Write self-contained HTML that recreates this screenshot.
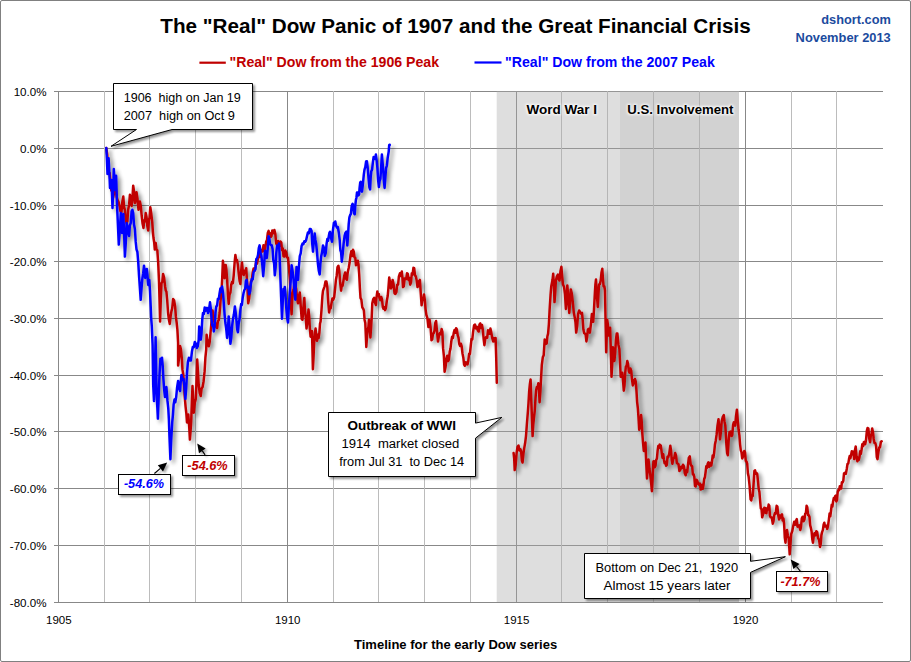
<!DOCTYPE html>
<html><head><meta charset="utf-8"><title>Real Dow 1907 vs 2007</title>
<style>html,body{margin:0;padding:0;background:#fff;}body{width:911px;height:662px;overflow:hidden;font-family:"Liberation Sans",sans-serif;}</style></head>
<body>
<svg width="911" height="662" viewBox="0 0 911 662" style="display:block;font-family:'Liberation Sans',sans-serif">
<defs>
<filter id="ls" x="-5%" y="-5%" width="110%" height="110%"><feGaussianBlur in="SourceAlpha" stdDeviation="1.9"/><feOffset dx="3.1" dy="2.7"/><feComponentTransfer><feFuncA type="linear" slope="0.45"/></feComponentTransfer><feMerge><feMergeNode/><feMergeNode in="SourceGraphic"/></feMerge></filter>
<filter id="bs" x="-10%" y="-20%" width="125%" height="150%"><feGaussianBlur in="SourceAlpha" stdDeviation="1.3"/><feOffset dx="2" dy="2"/><feComponentTransfer><feFuncA type="linear" slope="0.42"/></feComponentTransfer><feMerge><feMergeNode/><feMergeNode in="SourceGraphic"/></feMerge></filter>
<filter id="as" x="-2%" y="-2%" width="104%" height="104%"><feGaussianBlur in="SourceAlpha" stdDeviation="1.2"/><feOffset dx="2" dy="2"/><feComponentTransfer><feFuncA type="linear" slope="0.35"/></feComponentTransfer><feMerge><feMergeNode/><feMergeNode in="SourceGraphic"/></feMerge></filter>
<filter id="glow" x="-10%" y="-50%" width="120%" height="200%"><feMorphology in="SourceAlpha" operator="dilate" radius="1.2" result="d"/><feGaussianBlur in="d" stdDeviation="1.3" result="b"/><feFlood flood-color="#fff" flood-opacity="0.85" result="c"/><feComposite in="c" in2="b" operator="in"/></filter>
</defs>
<rect x="0" y="0" width="911" height="662" fill="#fff"/>
<rect x="0.5" y="0.5" width="910" height="661" rx="1.5" fill="none" stroke="#808080" stroke-width="1"/>
<rect x="54" y="91" width="829" height="1" fill="#888"/>
<rect x="54" y="148" width="829" height="1" fill="#888"/>
<rect x="54" y="205" width="829" height="1" fill="#888"/>
<rect x="54" y="261" width="829" height="1" fill="#888"/>
<rect x="54" y="318" width="829" height="1" fill="#888"/>
<rect x="54" y="375" width="829" height="1" fill="#888"/>
<rect x="54" y="431" width="829" height="1" fill="#888"/>
<rect x="54" y="488" width="829" height="1" fill="#888"/>
<rect x="54" y="545" width="829" height="1" fill="#888"/>
<rect x="54" y="602" width="829" height="1" fill="#888"/>
<rect x="104" y="91" width="1" height="511" fill="#bcbcbc"/>
<rect x="149" y="91" width="1" height="511" fill="#bcbcbc"/>
<rect x="195" y="91" width="1" height="511" fill="#bcbcbc"/>
<rect x="241" y="91" width="1" height="511" fill="#bcbcbc"/>
<rect x="287" y="91" width="1" height="511" fill="#888"/>
<rect x="333" y="91" width="1" height="511" fill="#bcbcbc"/>
<rect x="378" y="91" width="1" height="511" fill="#bcbcbc"/>
<rect x="424" y="91" width="1" height="511" fill="#bcbcbc"/>
<rect x="470" y="91" width="1" height="511" fill="#bcbcbc"/>
<rect x="516" y="91" width="1" height="511" fill="#888"/>
<rect x="561" y="91" width="1" height="511" fill="#bcbcbc"/>
<rect x="607" y="91" width="1" height="511" fill="#bcbcbc"/>
<rect x="653" y="91" width="1" height="511" fill="#bcbcbc"/>
<rect x="699" y="91" width="1" height="511" fill="#bcbcbc"/>
<rect x="745" y="91" width="1" height="511" fill="#888"/>
<rect x="791" y="91" width="1" height="511" fill="#bcbcbc"/>
<rect x="836" y="91" width="1" height="511" fill="#bcbcbc"/>
<rect x="58" y="91" width="1" height="512" fill="#888"/>
<rect x="496.7" y="91" width="123.3" height="511" fill="#ababab" fill-opacity="0.393"/>
<rect x="620" y="91" width="119" height="511" fill="#ababab" fill-opacity="0.537"/>
<text x="46.5" y="95.7" font-size="11.6" text-anchor="end" fill="#000">10.0%</text>
<text x="46.5" y="152.7" font-size="11.6" text-anchor="end" fill="#000">0.0%</text>
<text x="46.5" y="209.7" font-size="11.6" text-anchor="end" fill="#000">-10.0%</text>
<text x="46.5" y="265.7" font-size="11.6" text-anchor="end" fill="#000">-20.0%</text>
<text x="46.5" y="322.7" font-size="11.6" text-anchor="end" fill="#000">-30.0%</text>
<text x="46.5" y="379.7" font-size="11.6" text-anchor="end" fill="#000">-40.0%</text>
<text x="46.5" y="435.7" font-size="11.6" text-anchor="end" fill="#000">-50.0%</text>
<text x="46.5" y="492.7" font-size="11.6" text-anchor="end" fill="#000">-60.0%</text>
<text x="46.5" y="549.7" font-size="11.6" text-anchor="end" fill="#000">-70.0%</text>
<text x="46.5" y="606.7" font-size="11.6" text-anchor="end" fill="#000">-80.0%</text>
<text x="58.8" y="624.3" font-size="11.6" text-anchor="middle" fill="#000" textLength="25.6" lengthAdjust="spacingAndGlyphs">1905</text>
<text x="287.7" y="624.3" font-size="11.6" text-anchor="middle" fill="#000" textLength="25.6" lengthAdjust="spacingAndGlyphs">1910</text>
<text x="516.6" y="624.3" font-size="11.6" text-anchor="middle" fill="#000" textLength="25.6" lengthAdjust="spacingAndGlyphs">1915</text>
<text x="745.5" y="624.3" font-size="11.6" text-anchor="middle" fill="#000" textLength="25.6" lengthAdjust="spacingAndGlyphs">1920</text>
<text x="160.3" y="33" font-size="20.3" font-weight="bold" fill="#000" textLength="590.5" lengthAdjust="spacingAndGlyphs">The "Real" Dow Panic of 1907 and the Great Financial Crisis</text>
<text x="890.8" y="23.6" font-size="12.3" font-weight="bold" fill="#1b4b9e" text-anchor="end" textLength="69.5" lengthAdjust="spacingAndGlyphs">dshort.com</text>
<text x="890.8" y="41.5" font-size="12.3" font-weight="bold" fill="#1b4b9e" text-anchor="end" textLength="95.2" lengthAdjust="spacingAndGlyphs">November 2013</text>
<rect x="199.4" y="61.6" width="26.4" height="2.2" fill="#c00000"/>
<text x="229.5" y="66.5" font-size="14" font-weight="bold" fill="#c00000" textLength="209.5" lengthAdjust="spacingAndGlyphs">"Real" Dow from the 1906 Peak</text>
<rect x="474.5" y="61.4" width="27" height="2.2" fill="#0000ff"/>
<text x="505.1" y="66.5" font-size="14" font-weight="bold" fill="#0000ff" textLength="209.7" lengthAdjust="spacingAndGlyphs">"Real" Dow from the 2007 Peak</text>
<text x="354" y="649.4" font-size="12.8" font-weight="bold" fill="#000" textLength="203.2" lengthAdjust="spacingAndGlyphs">Timeline for the early Dow series</text>
<text x="526.4" y="114" font-size="12.8" font-weight="bold" textLength="70.6" lengthAdjust="spacingAndGlyphs" filter="url(#glow)" fill="#000">Word War I</text>
<text x="526.4" y="114" font-size="12.8" font-weight="bold" textLength="70.6" lengthAdjust="spacingAndGlyphs" fill="#000">Word War I</text>
<text x="627.3" y="114" font-size="12.8" font-weight="bold" textLength="106.2" lengthAdjust="spacingAndGlyphs" filter="url(#glow)" fill="#000">U.S. Involvement</text>
<text x="627.3" y="114" font-size="12.8" font-weight="bold" textLength="106.2" lengthAdjust="spacingAndGlyphs" fill="#000">U.S. Involvement</text>
<g filter="url(#ls)" fill="none" stroke-linejoin="round" stroke-linecap="round" stroke-width="2.5">
<path d="M106.3,148.0 L107.2,154.5 L108.0,165.0 L108.8,173.8 L109.7,173.1 L110.5,182.0 L111.3,190.5 L112.2,190.8 L113.0,198.0 L114.0,193.5 L115.0,186.0 L115.8,189.1 L116.7,196.8 L117.5,200.0 L118.5,201.7 L119.6,206.4 L120.5,211.6 L121.5,212.0 L122.4,201.2 L123.3,196.5 L124.1,207.2 L124.9,209.9 L125.7,219.7 L126.6,222.9 L127.4,221.0 L128.2,209.4 L129.1,204.7 L129.9,194.8 L130.8,197.9 L131.6,206.0 L132.4,198.9 L133.2,185.7 L134.1,191.6 L134.9,203.0 L135.7,200.4 L136.5,192.3 L137.5,199.0 L138.5,209.8 L139.2,207.1 L139.9,201.5 L140.8,205.9 L141.7,216.0 L142.6,223.8 L143.5,228.0 L144.2,220.2 L145.0,221.2 L145.7,213.0 L146.5,216.9 L147.4,226.6 L148.2,230.5 L148.9,219.6 L149.6,217.7 L150.3,207.3 L151.3,213.8 L152.3,223.0 L152.9,231.8 L153.5,238.0 L154.2,242.5 L154.8,249.6 L155.7,243.0 L156.5,249.6 L157.3,250.0 L158.2,262.9 L159.0,281.5 L159.6,302.8 L160.1,321.4 L160.8,299.4 L161.5,283.2 L162.3,281.9 L163.1,274.0 L164.1,277.7 L165.1,286.5 L165.8,290.8 L166.4,291.5 L167.2,300.0 L168.1,313.0 L168.9,319.8 L169.8,323.9 L170.6,316.6 L171.4,311.4 L172.2,308.4 L173.1,299.0 L174.1,300.2 L175.1,306.4 L175.9,316.9 L176.7,323.0 L177.4,329.9 L178.1,343.0 L178.1,365.5 L179.1,357.7 L180.1,346.0 L180.9,349.0 L181.8,358.0 L182.5,369.9 L183.3,374.5 L184.0,385.0 L184.8,397.5 L185.6,406.8 L186.3,413.0 L187.0,422.5 L187.7,420.1 L188.3,414.6 L189.1,424.8 L189.9,439.6 L190.6,430.7 L191.3,418.6 L191.9,400.3 L192.5,386.0 L193.2,400.7 L193.8,412.7 L194.8,402.8 L195.8,399.0 L196.5,381.1 L197.2,359.6 L197.9,370.2 L198.7,385.0 L199.7,392.8 L200.7,396.0 L201.6,388.4 L202.6,387.0 L203.6,381.2 L204.6,371.4 L205.4,357.5 L206.2,349.8 L206.6,334.7 L207.3,340.7 L208.1,340.2 L208.8,346.3 L209.7,341.9 L210.5,333.0 L211.6,320.8 L212.6,310.6 L213.6,318.8 L214.6,323.0 L215.4,323.2 L216.3,327.3 L217.1,328.0 L217.9,321.2 L218.8,320.0 L219.6,313.0 L220.5,301.1 L221.3,294.8 L222.1,280.5 L222.9,260.8 L223.8,267.2 L224.6,278.2 L225.1,273.3 L225.7,264.9 L226.4,269.8 L227.1,279.0 L227.9,293.8 L228.7,304.0 L229.5,294.8 L230.4,292.5 L231.2,284.9 L232.1,281.8 L232.9,283.2 L233.7,275.4 L234.6,262.8 L235.4,255.0 L236.2,260.3 L237.0,260.0 L237.8,264.4 L238.7,273.2 L239.6,280.9 L240.4,284.0 L241.2,270.5 L242.0,262.4 L242.8,271.8 L243.7,275.0 L244.5,270.7 L245.4,272.9 L246.2,268.2 L247.2,283.6 L248.2,303.3 L249.1,298.8 L250.0,290.0 L250.9,281.6 L251.8,280.4 L252.7,272.5 L253.6,268.4 L254.5,270.9 L255.4,267.0 L256.3,260.8 L257.1,263.6 L258.0,258.0 L258.9,253.0 L259.9,257.1 L260.8,250.3 L261.7,249.9 L262.6,251.5 L263.5,245.3 L264.5,250.7 L265.4,247.0 L266.2,241.7 L267.0,240.2 L267.8,232.9 L268.6,230.9 L269.3,234.1 L270.1,233.4 L270.8,237.0 L271.5,236.1 L272.3,230.4 L273.0,230.9 L273.7,233.3 L274.4,230.0 L275.3,233.7 L276.2,243.6 L277.1,245.0 L278.1,241.0 L279.0,243.6 L279.8,245.8 L280.5,241.6 L281.3,242.6 L282.0,250.2 L282.8,248.4 L283.5,256.2 L284.4,256.5 L285.3,250.6 L286.2,252.6 L287.1,257.2 L288.0,258.0 L288.9,266.8 L289.8,279.8 L290.7,300.3 L291.6,314.2 L292.2,300.4 L292.9,292.5 L293.6,289.3 L294.4,283.4 L295.3,284.2 L296.2,288.9 L297.1,298.3 L298.0,303.3 L298.9,296.1 L299.8,292.5 L300.8,307.2 L301.7,319.0 L302.5,319.7 L303.4,307.1 L304.3,297.9 L305.0,310.8 L305.8,317.3 L306.5,328.5 L307.5,321.3 L308.5,309.5 L309.2,316.6 L309.9,328.7 L310.6,336.7 L311.3,332.1 L312.0,331.0 L312.9,369.3 L313.5,358.1 L314.2,342.1 L314.9,333.1 L315.6,328.5 L316.3,335.8 L317.0,340.8 L317.8,334.8 L318.6,338.1 L319.4,332.6 L320.0,323.8 L320.6,321.5 L321.5,310.0 L322.4,296.1 L323.0,290.9 L323.7,288.9 L324.6,286.3 L325.5,281.6 L326.4,281.5 L327.3,287.0 L328.2,301.3 L329.1,312.4 L329.9,308.1 L330.7,308.3 L331.5,303.3 L332.4,298.4 L333.3,299.7 L334.2,297.2 L335.1,288.9 L335.9,280.0 L336.7,275.7 L337.5,267.1 L338.4,265.8 L339.3,270.7 L340.2,283.0 L341.1,290.7 L341.8,285.1 L342.6,285.8 L343.3,281.6 L344.2,275.9 L345.1,272.5 L346.0,278.7 L346.9,279.8 L347.8,271.9 L348.7,268.0 L349.6,262.8 L350.5,255.3 L351.3,251.2 L352.1,256.0 L353.0,249.8 L353.8,251.7 L354.5,257.4 L355.3,257.8 L356.0,265.3 L356.9,264.2 L357.8,260.8 L358.5,264.6 L359.2,274.4 L359.9,288.2 L360.5,297.9 L361.4,299.8 L362.3,307.4 L363.2,308.8 L363.9,310.4 L364.6,319.9 L365.3,323.1 L366.3,346.9 L367.0,337.1 L367.7,329.9 L368.4,327.0 L369.0,319.7 L369.7,327.0 L370.4,337.4 L371.0,328.8 L371.7,317.7 L372.3,303.3 L373.2,299.2 L374.1,297.9 L375.0,302.6 L375.9,305.0 L376.6,296.8 L377.3,291.6 L378.0,295.4 L378.8,294.1 L379.5,297.9 L380.4,300.2 L381.3,297.0 L382.0,299.3 L382.8,307.0 L383.5,308.8 L384.3,307.1 L385.1,310.1 L385.9,308.0 L386.8,301.0 L387.7,296.1 L388.4,288.4 L389.2,277.5 L390.0,281.9 L390.9,288.4 L391.8,286.8 L392.6,279.9 L393.6,284.3 L394.5,293.2 L395.4,294.0 L396.4,292.0 L397.2,284.7 L398.1,284.7 L398.9,276.3 L399.9,273.4 L400.8,275.9 L401.8,271.4 L402.4,277.3 L403.0,287.1 L403.8,286.4 L404.6,278.6 L405.4,278.7 L406.2,279.0 L407.0,273.3 L407.8,273.8 L408.6,280.0 L409.4,277.8 L410.2,284.7 L411.0,282.3 L411.8,273.3 L412.6,274.7 L413.4,267.8 L414.2,268.2 L415.0,275.4 L415.8,276.3 L416.6,279.9 L417.5,287.1 L418.3,285.8 L419.1,281.0 L419.9,279.9 L420.8,293.8 L421.6,305.3 L422.4,299.0 L423.2,299.6 L424.0,294.4 L424.8,299.9 L425.6,309.3 L426.4,315.0 L427.4,318.1 L428.4,327.0 L429.0,326.4 L429.6,319.8 L430.6,327.5 L431.5,340.3 L432.2,339.5 L433.0,333.9 L433.7,333.1 L434.5,330.7 L435.3,323.0 L436.1,321.0 L437.1,332.6 L438.0,341.5 L439.0,335.3 L440.0,333.1 L440.8,334.3 L441.6,329.1 L442.4,331.9 L443.1,348.4 L443.9,356.2 L444.6,371.8 L445.6,366.7 L446.5,358.5 L447.3,355.7 L448.1,361.0 L448.9,359.7 L449.7,351.8 L450.5,348.6 L451.3,341.5 L452.1,336.8 L452.9,338.0 L453.7,333.1 L454.5,330.0 L455.3,332.8 L456.1,328.2 L456.9,329.5 L457.7,335.3 L458.5,337.6 L459.3,344.0 L460.1,346.0 L460.9,343.7 L461.7,346.4 L462.5,353.5 L463.3,357.4 L464.1,364.5 L464.9,365.8 L465.8,362.2 L466.6,363.3 L467.5,364.4 L468.3,360.9 L469.1,353.8 L469.9,354.0 L470.7,346.4 L471.5,339.1 L472.3,339.4 L473.1,331.9 L474.1,325.2 L475.0,324.6 L476.0,328.5 L476.9,326.9 L477.9,330.7 L478.7,331.5 L479.5,324.5 L480.3,323.4 L481.1,328.1 L482.0,325.0 L482.8,329.5 L483.6,338.5 L484.4,345.2 L485.4,338.0 L486.4,336.7 L487.2,337.8 L488.0,330.3 L488.8,330.7 L489.6,333.8 L490.4,328.6 L491.2,331.9 L492.2,338.0 L493.2,341.5 L494.0,338.1 L494.8,341.3 L495.6,337.9 L496.2,357.4 L496.8,382.7" stroke="#c00000"/>
<path d="M513.6,453.1 L514.2,458.7 L514.7,470.1 L515.7,464.5 L516.6,453.1 L517.5,447.0 L518.5,445.6 L519.5,450.5 L520.4,449.3 L521.1,451.1 L521.9,460.7 L522.6,462.5 L523.4,453.9 L524.2,448.4 L525.1,443.3 L526.0,436.1 L527.0,422.5 L527.9,411.6 L528.5,403.0 L529.2,390.8 L529.9,383.9 L530.6,379.5 L531.2,398.5 L531.7,411.6 L532.6,436.1 L533.3,424.4 L534.0,417.3 L534.8,410.3 L535.5,398.4 L536.1,390.3 L536.8,387.1 L537.5,387.8 L538.3,383.3 L539.0,390.6 L539.6,402.2 L540.4,390.9 L541.1,377.6 L541.8,365.0 L542.8,357.3 L543.7,355.2 L544.7,339.4 L545.7,344.1 L546.7,343.4 L547.4,336.3 L548.1,333.6 L548.9,324.0 L549.6,310.0 L550.6,294.3 L551.3,285.9 L552.0,282.5 L552.6,279.3 L553.2,273.7 L553.9,285.2 L554.5,302.1 L555.2,292.9 L555.9,280.5 L556.9,276.4 L557.9,274.6 L558.7,279.2 L559.5,280.5 L560.5,271.0 L561.4,266.8 L562.2,277.1 L563.0,284.5 L564.0,286.7 L565.0,294.3 L565.9,309.0 L566.6,300.4 L567.3,285.4 L568.3,297.0 L569.3,312.9 L570.0,303.0 L570.8,289.4 L571.8,293.6 L572.8,302.1 L573.8,312.5 L574.8,317.8 L575.5,322.4 L576.2,332.6 L577.2,325.7 L578.1,313.9 L579.1,310.5 L580.1,312.0 L581.0,313.6 L582.0,312.9 L582.7,319.9 L583.4,329.6 L584.2,333.2 L585.0,333.6 L585.7,334.8 L586.4,341.4 L587.1,337.2 L587.9,329.6 L588.9,328.8 L589.9,332.6 L590.9,324.3 L591.9,313.9 L592.5,316.7 L593.2,321.8 L594.0,309.7 L594.8,294.3 L595.4,284.4 L596.0,279.5 L596.9,295.8 L597.8,307.0 L598.5,293.2 L599.1,284.5 L599.9,284.2 L600.7,280.5 L601.5,272.4 L602.3,268.7 L603.0,279.6 L603.6,286.4 L604.3,286.3 L605.0,290.3 L605.6,322.5 L606.2,352.2 L607.2,319.8 L607.9,324.6 L608.6,335.5 L609.4,333.1 L610.1,327.7 L610.8,349.0 L611.5,376.8 L612.2,365.2 L612.9,347.3 L613.6,353.1 L614.4,361.0 L615.2,352.3 L616.0,339.4 L616.7,333.6 L617.4,333.6 L618.4,344.7 L619.4,349.3 L620.0,361.0 L620.7,376.8 L621.5,376.4 L622.3,372.8 L623.0,380.3 L623.8,390.7 L624.5,385.7 L625.2,372.9 L625.9,366.3 L626.6,366.0 L627.3,361.0 L628.0,363.6 L628.8,371.0 L629.5,372.7 L630.4,368.5 L631.2,370.6 L632.0,379.3 L632.8,385.4 L633.5,380.4 L634.3,383.3 L635.0,379.0 L635.7,381.3 L636.4,389.6 L637.1,401.8 L637.9,408.7 L638.5,417.7 L639.2,429.8 L640.2,425.5 L641.1,415.0 L641.7,421.3 L642.2,431.9 L643.0,442.5 L643.8,451.0 L644.6,445.7 L645.5,442.5 L646.2,462.6 L647.0,478.5 L647.8,466.9 L648.5,459.4 L649.4,468.5 L650.2,474.2 L651.0,481.4 L651.9,491.2 L652.6,478.1 L653.4,461.5 L654.1,461.2 L654.8,467.3 L655.5,465.8 L656.2,459.9 L656.9,458.7 L657.6,451.0 L658.3,445.9 L659.0,448.0 L659.7,444.6 L660.8,445.7 L661.8,453.1 L662.5,457.8 L663.2,454.2 L663.9,459.4 L664.6,463.2 L665.4,461.8 L666.1,465.8 L666.8,464.9 L667.5,456.8 L668.2,457.3 L669.2,453.9 L670.3,445.7 L671.0,449.9 L671.7,459.7 L672.4,463.7 L673.3,458.5 L674.3,457.7 L675.2,453.1 L676.0,455.4 L676.9,463.1 L677.7,463.7 L678.5,464.1 L679.4,471.1 L680.2,470.0 L681.1,466.7 L682.1,468.1 L683.0,464.7 L683.9,466.1 L684.8,473.2 L685.7,475.3 L686.4,470.3 L687.2,472.2 L687.9,465.8 L688.8,458.0 L689.8,456.3 L690.6,463.9 L691.4,465.8 L692.1,466.1 L692.9,474.5 L693.6,474.2 L694.3,476.9 L695.0,485.9 L695.7,486.4 L696.5,479.7 L697.2,480.6 L698.2,483.8 L699.3,484.8 L700.0,483.5 L700.7,489.6 L701.4,489.0 L702.1,484.9 L702.8,488.7 L703.5,484.8 L704.2,478.9 L704.9,477.4 L705.6,472.1 L706.3,466.2 L707.0,467.8 L707.7,463.7 L708.4,462.3 L709.2,466.9 L709.9,465.8 L710.6,462.7 L711.3,465.6 L712.0,461.5 L712.7,455.5 L713.4,457.5 L714.1,453.1 L715.0,444.2 L715.8,440.4 L716.6,434.7 L717.5,425.6 L718.5,419.2 L719.2,427.0 L720.0,439.3 L720.9,432.2 L721.7,421.3 L722.8,416.8 L723.8,415.0 L724.5,421.7 L725.3,425.6 L725.8,433.6 L726.4,444.6 L727.1,453.0 L727.8,455.2 L728.6,441.4 L729.5,431.9 L730.2,434.8 L730.9,431.6 L731.6,436.1 L732.3,434.8 L733.1,424.9 L733.8,422.4 L734.5,425.3 L735.2,425.6 L736.0,416.2 L736.9,409.7 L737.8,421.0 L738.6,429.8 L739.4,435.4 L740.1,444.6 L740.8,450.4 L741.5,452.3 L742.2,458.4 L743.2,456.3 L744.3,451.0 L745.0,452.2 L745.8,461.0 L746.5,461.5 L747.2,463.7 L747.9,473.4 L748.6,476.4 L749.6,485.9 L750.6,499.3 L751.3,500.4 L752.0,495.3 L752.7,496.1 L753.5,485.2 L754.4,470.8 L755.1,470.4 L755.8,473.8 L756.5,472.9 L757.2,473.9 L758.0,481.3 L758.7,489.0 L759.4,491.9 L760.1,500.4 L760.8,508.5 L761.5,508.7 L762.2,517.3 L763.2,514.0 L764.3,507.8 L765.0,507.9 L765.7,512.9 L766.4,513.1 L767.1,508.3 L767.9,509.5 L768.6,504.6 L769.3,505.6 L770.0,516.0 L770.7,517.3 L771.8,517.5 L772.8,523.7 L773.5,521.2 L774.2,515.6 L774.9,513.1 L775.7,513.6 L776.6,505.8 L777.4,506.7 L778.2,515.1 L779.1,519.4 L779.8,515.6 L780.6,517.6 L781.3,515.2 L782.0,514.4 L782.7,520.5 L783.4,518.4 L784.1,523.6 L784.8,537.6 L785.5,542.7 L786.2,533.1 L787.0,530.0 L787.9,535.8 L788.7,538.5 L789.7,554.3 L790.5,543.0 L791.2,534.2 L792.2,531.4 L793.3,525.8 L794.2,521.8 L795.2,524.8 L796.1,520.5 L796.8,519.1 L797.5,526.7 L798.2,525.8 L799.2,525.4 L800.3,530.0 L801.0,527.0 L801.8,518.4 L802.7,516.7 L803.6,521.3 L804.5,519.4 L805.2,513.7 L805.9,513.1 L806.6,505.7 L807.3,507.3 L808.1,515.1 L808.8,515.2 L809.5,516.9 L810.2,525.4 L810.9,527.9 L811.6,531.5 L812.3,539.3 L813.0,542.7 L813.8,535.5 L814.5,533.2 L815.4,535.4 L816.3,531.2 L817.2,532.1 L818.1,538.2 L819.1,539.8 L820.0,546.9 L820.7,544.3 L821.4,535.1 L822.1,532.1 L822.9,529.9 L823.6,524.7 L824.3,522.7 L825.0,526.5 L825.7,525.8 L826.5,525.7 L827.2,528.9 L828.0,526.2 L828.9,519.4 L829.6,513.4 L830.3,516.3 L831.0,511.0 L831.7,504.8 L832.4,506.7 L833.1,501.4 L833.8,498.1 L834.5,499.5 L835.2,496.2 L835.8,495.6 L836.3,501.4 L837.0,500.2 L837.7,492.0 L838.4,489.8 L839.1,490.2 L839.8,486.3 L840.5,487.7 L841.2,488.5 L841.9,482.2 L842.6,482.4 L843.3,480.8 L844.0,473.5 L844.7,472.9 L845.8,473.9 L846.8,468.7 L847.5,464.0 L848.3,463.4 L849.0,459.1 L849.7,455.9 L850.4,458.3 L851.1,454.9 L851.8,451.3 L852.5,454.2 L853.2,451.7 L854.2,459.1 L855.0,449.9 L855.7,446.4 L856.5,456.5 L857.4,461.3 L858.1,457.7 L858.8,459.9 L859.5,457.0 L860.2,451.3 L860.9,453.8 L861.6,449.6 L862.3,444.2 L863.1,446.2 L863.8,442.2 L864.5,441.7 L865.2,444.3 L866.0,440.2 L866.9,430.6 L867.6,427.9 L868.4,428.5 L869.2,438.5 L870.1,442.2 L870.8,435.5 L871.5,434.5 L872.2,428.5 L873.0,432.2 L873.7,439.0 L874.5,443.1 L875.4,443.3 L876.1,446.0 L876.8,457.0 L877.5,459.1 L878.4,452.0 L879.2,447.5 L880.0,447.3 L880.9,441.8 L881.7,441.2" stroke="#c00000"/>
<path d="M106.3,148.0 L106.9,159.3 L107.5,174.0 L108.0,167.5 L108.6,158.3 L109.3,170.7 L110.0,188.0 L110.7,185.2 L111.3,180.0 L111.9,191.8 L112.5,208.0 L113.2,190.3 L113.8,169.0 L114.4,178.4 L115.0,190.0 L115.5,185.0 L116.1,175.7 L117.1,206.4 L117.9,224.4 L118.8,244.6 L119.8,230.8 L120.8,213.0 L121.4,221.8 L122.1,233.0 L122.7,224.7 L123.3,214.0 L124.1,233.3 L124.9,256.6 L125.8,242.7 L126.6,223.0 L127.4,226.0 L128.3,233.2 L129.1,236.0 L129.9,225.4 L130.8,222.8 L131.6,211.4 L132.4,209.9 L133.2,213.0 L134.0,224.5 L134.9,228.9 L135.7,241.7 L136.5,249.4 L137.4,252.0 L138.2,261.6 L139.1,276.6 L139.9,288.2 L140.7,299.8 L141.6,287.7 L142.4,278.2 L143.2,273.2 L144.0,265.7 L144.6,270.1 L145.2,278.0 L146.0,276.4 L146.8,269.0 L147.5,275.5 L148.2,284.9 L148.8,284.8 L149.3,280.0 L150.0,290.7 L150.7,306.4 L151.2,318.3 L151.8,326.4 L152.6,345.0 L153.2,385.0 L154.0,400.9 L154.6,379.0 L155.1,361.6 L155.6,337.2 L156.5,389.0 L157.2,404.9 L157.9,418.6 L158.7,395.7 L159.5,375.0 L160.4,358.7 L161.2,359.7 L162.0,357.7 L162.7,365.8 L163.4,379.0 L164.2,390.0 L165.0,397.0 L165.7,390.3 L166.4,387.0 L167.4,400.2 L168.3,408.7 L168.9,419.8 L169.4,435.0 L170.4,459.2 L171.2,440.0 L172.2,422.5 L172.9,415.3 L173.6,404.8 L174.5,399.4 L175.3,402.2 L176.2,397.0 L177.1,387.4 L178.1,381.0 L179.1,388.3 L180.1,391.0 L180.8,380.8 L181.5,375.0 L182.4,380.0 L183.4,379.0 L184.4,386.3 L185.4,399.0 L186.2,387.7 L187.0,373.0 L187.9,362.1 L188.9,357.7 L189.9,360.4 L190.9,360.6 L191.9,351.8 L192.8,346.9 L193.8,347.2 L194.8,342.0 L195.8,343.7 L196.8,348.0 L197.8,346.1 L198.7,340.0 L199.2,326.4 L200.0,332.0 L200.8,339.7 L201.5,333.3 L202.3,319.1 L203.0,313.0 L203.8,314.1 L204.7,307.5 L205.5,311.0 L206.3,308.0 L207.2,307.9 L208.0,313.0 L209.0,310.0 L210.0,302.3 L210.8,308.7 L211.6,319.7 L212.3,325.6 L213.1,324.6 L213.8,331.4 L214.6,326.2 L215.5,312.6 L216.3,306.4 L217.1,305.6 L217.9,298.7 L218.8,299.1 L219.6,293.2 L220.4,288.5 L221.3,292.0 L222.1,286.5 L222.9,291.9 L223.8,303.0 L224.6,314.7 L225.4,323.0 L226.2,328.6 L227.1,338.0 L227.9,329.7 L228.7,316.4 L229.6,329.0 L230.4,343.8 L231.2,337.8 L232.1,326.3 L232.9,319.7 L233.9,314.3 L234.9,306.4 L235.7,312.6 L236.5,321.0 L237.2,329.4 L237.9,332.2 L238.7,323.4 L239.6,318.8 L240.4,309.8 L241.2,303.9 L241.9,304.9 L242.7,297.9 L243.6,292.8 L244.4,290.0 L245.2,288.6 L245.9,280.9 L246.7,279.8 L247.5,287.7 L248.3,286.6 L249.1,294.3 L250.0,292.1 L250.9,284.0 L251.8,279.0 L252.7,279.3 L253.6,272.2 L254.5,270.7 L255.4,269.5 L256.3,259.0 L257.2,258.0 L258.0,255.1 L258.8,248.2 L259.6,245.4 L260.5,252.2 L261.4,256.0 L262.3,264.6 L263.2,276.2 L264.1,265.6 L265.0,250.8 L265.9,252.0 L266.8,258.0 L267.7,248.8 L268.6,236.3 L269.3,238.2 L270.1,244.1 L270.8,245.0 L271.7,245.2 L272.6,249.0 L273.3,260.1 L274.1,263.3 L274.8,275.3 L275.6,267.9 L276.3,253.2 L277.1,245.4 L278.1,246.9 L279.0,243.5 L279.6,255.4 L280.2,272.5 L281.1,296.7 L282.0,318.7 L282.8,300.7 L283.5,288.9 L284.1,290.7 L284.8,287.0 L285.5,294.0 L286.2,307.0 L287.1,317.5 L288.0,322.4 L288.9,305.5 L289.8,292.5 L290.7,280.8 L291.6,265.3 L292.5,270.4 L293.4,278.0 L294.4,291.3 L295.3,299.7 L295.9,282.3 L296.5,267.1 L297.2,274.6 L298.0,279.8 L298.9,266.5 L299.8,256.2 L300.7,253.4 L301.6,246.0 L302.5,243.6 L303.4,244.1 L304.3,241.3 L305.2,241.7 L306.1,240.3 L307.0,236.3 L307.9,232.6 L308.9,233.3 L309.8,229.0 L310.7,228.9 L311.6,231.0 L312.3,244.4 L313.0,251.7 L313.9,240.2 L314.7,233.6 L315.4,239.9 L316.1,243.5 L317.0,251.9 L317.9,263.5 L318.8,270.7 L319.7,274.4 L320.4,263.5 L321.2,256.2 L322.1,252.1 L323.0,245.4 L323.9,247.7 L324.8,256.0 L325.7,253.1 L326.6,243.6 L327.3,239.1 L328.1,240.8 L328.8,236.3 L329.4,232.9 L330.0,231.8 L331.0,238.0 L332.0,241.7 L332.9,230.4 L333.9,222.7 L334.6,225.2 L335.3,221.6 L336.0,225.4 L336.9,227.6 L337.8,227.0 L338.8,232.4 L339.7,240.0 L340.4,250.4 L341.1,252.3 L341.8,261.7 L342.7,254.0 L343.6,243.6 L344.6,235.9 L345.5,232.7 L346.4,231.6 L347.3,245.4 L348.0,235.8 L348.7,224.1 L349.4,217.3 L350.2,215.0 L350.9,213.8 L351.7,206.0 L352.6,203.8 L353.5,207.5 L354.1,213.5 L354.7,214.3 L355.3,205.5 L355.9,199.9 L356.4,198.0 L357.0,192.4 L357.8,192.5 L358.5,195.4 L359.1,194.4 L359.6,187.9 L360.2,182.6 L360.8,181.8 L361.4,189.5 L362.0,191.6 L363.0,183.3 L363.8,174.7 L364.5,169.7 L365.3,167.1 L366.1,161.4 L366.9,161.2 L367.6,166.7 L368.6,178.8 L369.4,187.4 L370.1,189.4 L370.7,177.3 L371.3,171.2 L372.1,169.6 L372.9,162.2 L373.6,157.1 L374.4,157.7 L375.1,158.9 L375.9,154.6 L376.6,159.9 L377.4,168.2 L378.1,179.8 L378.9,187.1 L379.6,181.1 L380.4,178.8 L381.1,167.8 L381.9,154.6 L382.6,162.6 L383.4,172.8 L384.0,182.0 L384.6,187.9 L385.4,176.5 L386.1,168.2 L386.9,165.5 L387.7,157.7 L388.7,151.6 L389.2,145.0 L389.8,144.8" stroke="#0000ff"/>
</g>
<path d="M113.5,83.5 H252.5 V129.5 H172 L111,146.3 L136.5,129.5 H113.5 Z" fill="#fff" stroke="#000" stroke-width="1" filter="url(#bs)"/>
<text x="123.7" y="101.7" font-size="12" fill="#000" textLength="117.1" lengthAdjust="spacingAndGlyphs" xml:space="preserve">1906  high on Jan 19</text>
<text x="123.7" y="119.5" font-size="12" fill="#000" textLength="111.2" lengthAdjust="spacingAndGlyphs" xml:space="preserve">2007  high on Oct 9</text>
<path d="M328.5,412.5 H475.5 V423.1 L501.8,417.4 L475.5,438.2 V476.5 H328.5 Z" fill="#fff" stroke="#000" stroke-width="1" filter="url(#bs)"/>
<text x="347.4" y="429.7" font-size="12.6" font-weight="bold" fill="#000" textLength="108.7" lengthAdjust="spacingAndGlyphs">Outbreak of WWI</text>
<text x="341.5" y="447.7" font-size="12" fill="#000" textLength="117.9" lengthAdjust="spacingAndGlyphs" xml:space="preserve">1914  market closed</text>
<text x="339.3" y="465.7" font-size="12" fill="#000" textLength="124.9" lengthAdjust="spacingAndGlyphs" xml:space="preserve">from Jul 31  to Dec 14</text>
<path d="M584.5,553.5 H750.5 V561.3 L785.4,556.7 L750.5,572.4 V598.5 H584.5 Z" fill="#fff" stroke="#000" stroke-width="1" filter="url(#bs)"/>
<text x="595.5" y="572.1" font-size="12" fill="#000" textLength="142.7" lengthAdjust="spacingAndGlyphs" xml:space="preserve">Bottom on Dec 21,  1920</text>
<text x="603.5" y="589.8" font-size="12" fill="#000" textLength="127" lengthAdjust="spacingAndGlyphs">Almost 15 years later</text>
<rect x="118.5" y="474.5" width="52.0" height="20.0" fill="#fff" stroke="#000" stroke-width="1" filter="url(#bs)"/>
<text x="123.9" y="488.3" font-size="12.2" font-weight="bold" font-style="italic" fill="#0000ff" textLength="40.1" lengthAdjust="spacingAndGlyphs">-54.6%</text>
<rect x="182.5" y="455.5" width="52.0" height="20.0" fill="#fff" stroke="#000" stroke-width="1" filter="url(#bs)"/>
<text x="187.3" y="469.7" font-size="12.2" font-weight="bold" font-style="italic" fill="#c00000" textLength="40.4" lengthAdjust="spacingAndGlyphs">-54.6%</text>
<rect x="776.5" y="571.5" width="51.0" height="20.0" fill="#fff" stroke="#000" stroke-width="1" filter="url(#bs)"/>
<text x="780.4" y="586" font-size="12.2" font-weight="bold" font-style="italic" fill="#c00000" textLength="40" lengthAdjust="spacingAndGlyphs">-71.7%</text>
<g filter="url(#as)">
<path d="M154.4,473.5 L160.4,468.4" stroke="#000" stroke-width="1.15" fill="none"/>
<path d="M167.2,462.5 L163.0,471.4 L157.8,465.3 Z" fill="#000"/>
<path d="M205.1,454.9 L202.3,450.9" stroke="#000" stroke-width="1.15" fill="none"/>
<path d="M197.2,443.5 L205.6,448.6 L199.0,453.2 Z" fill="#000"/>
<path d="M800.3,571.1 L796.5,566.5" stroke="#000" stroke-width="1.15" fill="none"/>
<path d="M790.7,559.6 L799.5,563.9 L793.4,569.1 Z" fill="#000"/>
</g>
</svg>
</body></html>
